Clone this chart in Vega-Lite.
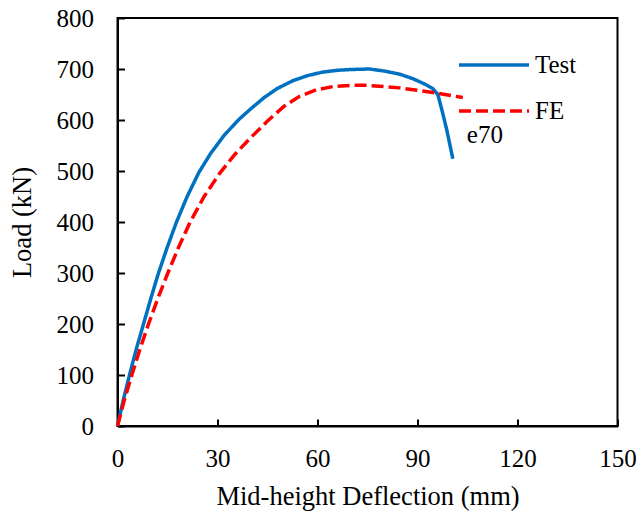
{
  "$schema": "https://vega.github.io/schema/vega-lite/v6.json",
  "width": 500,
  "height": 408,
  "autosize": {"type": "none"},
  "padding": {"left": 117.5, "top": 18, "right": 23, "bottom": 90},
  "background": "white",
  "config": {
    "font": "Liberation Serif",
    "view": {"stroke": "black", "strokeWidth": 2},
    "axis": {
      "grid": false,
      "domainColor": "black",
      "domainWidth": 2,
      "tickColor": "black",
      "tickWidth": 2,
      "tickSize": -7,
      "labelFont": "Liberation Serif",
      "labelFontSize": 25,
      "labelColor": "black",
      "labelFlush": false,
      "titleFont": "Liberation Serif",
      "titleFontSize": 26.5,
      "titleFontWeight": "normal",
      "titleColor": "black"
    }
  },
  "layer": [
    {
      "data": {
        "values": [
          {"d": 0, "load": 0, "series": "Test"},
          {"d": 1.7, "load": 50, "series": "Test"},
          {"d": 3.6, "load": 100, "series": "Test"},
          {"d": 5.6, "load": 150, "series": "Test"},
          {"d": 7.8, "load": 200, "series": "Test"},
          {"d": 10, "load": 250, "series": "Test"},
          {"d": 12.3, "load": 300, "series": "Test"},
          {"d": 14.9, "load": 350, "series": "Test"},
          {"d": 17.7, "load": 400, "series": "Test"},
          {"d": 20.9, "load": 450, "series": "Test"},
          {"d": 24.4, "load": 497, "series": "Test"},
          {"d": 28, "load": 535, "series": "Test"},
          {"d": 32, "load": 570, "series": "Test"},
          {"d": 36.4, "load": 601, "series": "Test"},
          {"d": 40, "load": 622, "series": "Test"},
          {"d": 44, "load": 644, "series": "Test"},
          {"d": 48, "load": 662, "series": "Test"},
          {"d": 52.6, "load": 677, "series": "Test"},
          {"d": 57, "load": 687, "series": "Test"},
          {"d": 61.6, "load": 694, "series": "Test"},
          {"d": 66, "load": 697.5, "series": "Test"},
          {"d": 70, "load": 699, "series": "Test"},
          {"d": 75.6, "load": 700, "series": "Test"},
          {"d": 80, "load": 696, "series": "Test"},
          {"d": 84.6, "load": 690, "series": "Test"},
          {"d": 88.6, "load": 681, "series": "Test"},
          {"d": 92, "load": 671, "series": "Test"},
          {"d": 94.5, "load": 662, "series": "Test"},
          {"d": 96.1, "load": 650, "series": "Test"},
          {"d": 97.5, "load": 615, "series": "Test"},
          {"d": 98.8, "load": 580, "series": "Test"},
          {"d": 100.6, "load": 524, "series": "Test"},
          {"d": 0, "load": 0, "series": "FE"},
          {"d": 2.0, "load": 50, "series": "FE"},
          {"d": 4.3, "load": 100, "series": "FE"},
          {"d": 6.7, "load": 150, "series": "FE"},
          {"d": 9.3, "load": 200, "series": "FE"},
          {"d": 12.1, "load": 250, "series": "FE"},
          {"d": 15.1, "load": 300, "series": "FE"},
          {"d": 18.3, "load": 350, "series": "FE"},
          {"d": 21.8, "load": 400, "series": "FE"},
          {"d": 26, "load": 450, "series": "FE"},
          {"d": 30.6, "load": 495, "series": "FE"},
          {"d": 35, "load": 531, "series": "FE"},
          {"d": 39.6, "load": 563, "series": "FE"},
          {"d": 45, "load": 598, "series": "FE"},
          {"d": 50, "load": 627, "series": "FE"},
          {"d": 54.5, "load": 646, "series": "FE"},
          {"d": 59.6, "load": 659, "series": "FE"},
          {"d": 65, "load": 666, "series": "FE"},
          {"d": 70, "load": 668, "series": "FE"},
          {"d": 75, "load": 668, "series": "FE"},
          {"d": 84.6, "load": 663, "series": "FE"},
          {"d": 94.6, "load": 654, "series": "FE"},
          {"d": 103.6, "load": 644, "series": "FE"}
        ]
      },
      "mark": {"type": "line", "strokeWidth": 3.5, "strokeCap": "butt"},
      "encoding": {
        "x": {
          "field": "d", "type": "quantitative",
          "scale": {"domain": [0, 150], "nice": false},
          "axis": {"values": [0, 30, 60, 90, 120, 150], "title": "Mid-height Deflection (mm)", "labelPadding": 27, "titlePadding": 12}
        },
        "y": {
          "field": "load", "type": "quantitative",
          "scale": {"domain": [0, 800], "nice": false},
          "axis": {"values": [0, 100, 200, 300, 400, 500, 600, 700, 800], "title": "Load (kN)", "labelPadding": 31, "titlePadding": 20}
        },
        "order": {"field": "d", "type": "quantitative"},
        "color": {
          "field": "series", "type": "nominal",
          "scale": {"domain": ["Test", "FE"], "range": ["#0070C0", "#FF0000"]},
          "legend": {
            "title": null,
            "orient": "none",
            "legendX": 339.5,
            "legendY": 34,
            "padding": 0,
            "symbolType": "stroke",
            "symbolSize": 4900,
            "symbolStrokeWidth": 3.5,
            "labelFontSize": 25,
            "labelFont": "Liberation Serif",
            "labelColor": "black",
            "labelOffset": 4,
            "clipHeight": 26,
            "rowPadding": 20
          }
        },
        "strokeDash": {
          "field": "series", "type": "nominal",
          "scale": {"domain": ["Test", "FE"], "range": [[1, 0], [12, 5]]},
          "legend": {"title": null}
        }
      }
    },
    {
      "data": {"values": [{"d": 104.8, "load": 554, "label": "e70"}]},
      "mark": {"type": "text", "align": "left", "baseline": "alphabetic", "font": "Liberation Serif", "fontSize": 25, "color": "black"},
      "encoding": {
        "x": {"field": "d", "type": "quantitative"},
        "y": {"field": "load", "type": "quantitative"},
        "text": {"field": "label"}
      }
    }
  ]
}
